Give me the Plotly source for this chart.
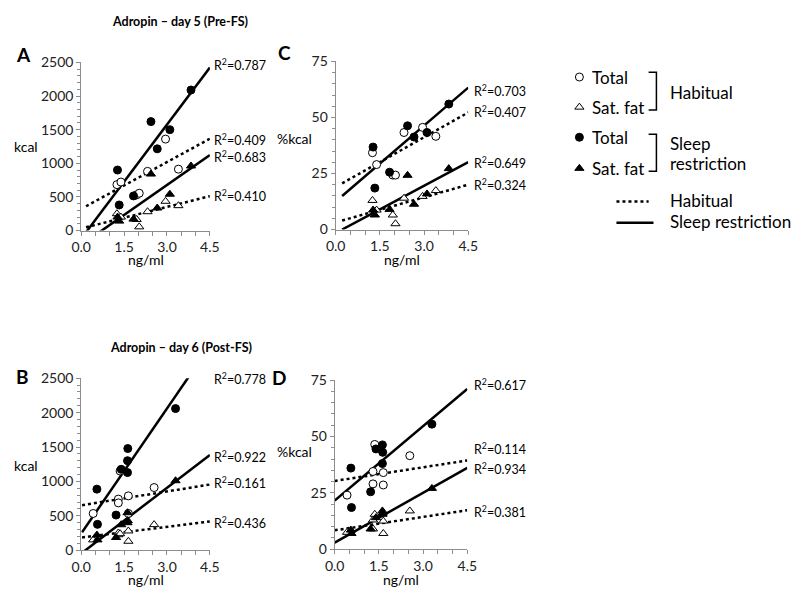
import plotly.graph_objects as go

# ---------------- data ----------------
# Day 5 (Pre-FS): adropin (ng/ml) per subject
x5_sr = [1.27, 1.33, 1.83, 2.44, 2.66, 3.10, 3.84]
x5_hab = [1.25, 1.39, 1.94, 2.03, 2.32, 2.95, 3.40]
A_sr_total = [900, 380, 515, 1620, 1215, 1500, 2090]
A_hab_total = [683, 721, 530, 555, 880, 1360, 913]
A_sr_sat = [200, 140, 170, 840, 335, 540, 960]
A_hab_sat = [250, 200, 165, 55, 280, 435, 370]
C_sr_total = [36.8, 18.5, 25.6, 46.3, 41.3, 43.3, 56.0]
C_hab_total = [34.3, 29.0, 24.3, 24.3, 43.3, 45.6, 41.6]
C_sr_sat = [8.7, 6.5, 9.0, 24.2, 11.3, 15.9, 27.2]
C_hab_sat = [13.0, 8.7, 6.5, 2.6, 14.0, 14.8, 17.4]

# Day 6 (Post-FS)
x6_sr = [0.55, 0.57, 1.22, 1.40, 1.62, 1.63, 1.62, 3.30]
x6_hab = [0.42, 1.30, 1.30, 1.36, 1.65, 1.65, 2.55]
B_sr_total = [888, 376, 511, 1176, 1301, 1478, 1129, 2059]
B_sr_sat = [220, 150, 185, 370, 545, 430, 400, 1010]
B_hab_total = [534, 743, 688, 1152, 790, 534, 911]
B_hab_sat = [150, 225, 250, 240, 280, 130, 372]
D_sr_total = [36.0, 18.5, 25.5, 44.5, 46.3, 43.0, 38.0, 55.5]
D_sr_sat = [8.5, 7.0, 9.0, 14.0, 17.0, 16.0, 15.5, 27.0]
D_hab_total = [24.0, 34.5, 29.0, 46.5, 34.0, 28.5, 41.5]
D_hab_sat = [7.5, 9.0, 13.0, 15.5, 12.5, 7.0, 17.0]

# trend lines: (slope, intercept) for sr_total, hab_total, sr_sat, hab_sat
A_trend = [(566, -122), (232, 322), (297, -214), (107, 30)]
C_trend = [(11.3, 12.5), (7.39, 19.0), (7.04, -1.55), (3.74, 3.2)]
B_trend = [(606, 242), (67, 653), (318.5, -48), (52, 184)]
D_trend = [(11.0, 21.6), (2.02, 30.3), (7.38, 2.9), (1.98, 8.4)]
trend_start = {"A": 0.17, "C": 0.22, "B": 0.03, "D": 0.0}
trend_end = 4.5

A_r2 = ["0.787", "0.409", "0.683", "0.410"]
C_r2 = ["0.703", "0.407", "0.649", "0.324"]
B_r2 = ["0.778", "0.922", "0.161", "0.436"]
D_r2 = ["0.617", "0.114", "0.934", "0.381"]

x_ticks = [0.0, 1.5, 3.0, 4.5]
x_ticktext = ["0.0", "1.5", "3.0", "4.5"]

# ---------------- figure ----------------
FONT = "Lato, 'Open Sans', sans-serif"
W, H = 800, 600
fig = go.Figure()

def px_x(p):
    return p / W

def px_y(p):
    return 1 - p / H

panels = {
    "A": ("", (73, 205), (55, 228), 2500, 500, 100),
    "C": ("2", (334, 470), (54, 227), 75, 25, 5),
    "B": ("3", (73, 205), (380, 557), 2500, 500, 100),
    "D": ("4", (333, 469), (382, 556), 75, 25, 5),
}

data = {
    "A": (x5_sr, x5_hab, A_sr_total, A_hab_total, A_sr_sat, A_hab_sat, A_trend),
    "C": (x5_sr, x5_hab, C_sr_total, C_hab_total, C_sr_sat, C_hab_sat, C_trend),
    "B": (x6_sr, x6_hab, B_sr_total, B_hab_total, B_sr_sat, B_hab_sat, B_trend),
    "D": (x6_sr, x6_hab, D_sr_total, D_hab_total, D_sr_sat, D_hab_sat, D_trend),
}

AXC = "#8c8c8c"
layout_axes = {}
for name, (suf, (x0, x1), (yt, yb), ymax, major, minor) in panels.items():
    xa = "x" + suf
    ya = "y" + suf
    layout_axes["xaxis" + suf] = dict(
        domain=[px_x(x0), px_x(x1)], anchor=ya, range=[0, 4.5],
        tickvals=x_ticks, ticktext=x_ticktext, ticks="outside", ticklen=4,
        tickcolor=AXC, showline=True, linecolor=AXC, linewidth=1,
        showgrid=False, zeroline=False,
        minor=dict(dtick=0.5, tick0=0, ticks="outside", ticklen=4, tickcolor=AXC),
        tickfont=dict(family=FONT, size=14, color="#222"),
    )
    layout_axes["yaxis" + suf] = dict(
        domain=[px_y(yb), px_y(yt)], anchor=xa, range=[0, ymax],
        dtick=major, ticks="outside", ticklen=4, tickcolor=AXC,
        showline=True, linecolor=AXC, linewidth=1, showgrid=False, zeroline=False,
        minor=dict(dtick=minor, ticks="outside", ticklen=3, tickcolor=AXC),
        tickfont=dict(family=FONT, size=14, color="#222"),
    )
    xs_sr, xs_hab, sr_tot, hab_tot, sr_sat, hab_sat, trend = data[name]
    styles = ["solid", "dot", "solid", "dot"]
    for (slope, icpt), dash in zip(trend, styles):
        xx = [trend_start[name], trend_end]
        yy = [icpt + slope * v for v in xx]
        fig.add_trace(go.Scatter(x=xx, y=yy, mode="lines", xaxis=xa, yaxis=ya,
                                 line=dict(color="black", width=2.5, dash=dash),
                                 showlegend=False, hoverinfo="skip"))
    mk = [
        (xs_hab, hab_tot, "circle-open"),
        (xs_hab, hab_sat, "triangle-up-open"),
        (xs_sr, sr_tot, "circle"),
        (xs_sr, sr_sat, "triangle-up"),
    ]
    for xs, ys, sym in mk:
        openm = "open" in sym
        fig.add_trace(go.Scatter(
            x=xs, y=ys, mode="markers", xaxis=xa, yaxis=ya,
            marker=dict(symbol=sym.replace("-open", ""), size=8,
                        color="white" if openm else "black",
                        line=dict(color="black", width=1)),
            cliponaxis=False, showlegend=False))

# overlay axis in pixel space for the legend
layout_axes["xaxis5"] = dict(domain=[0, 1], range=[0, W], visible=False, anchor="y5", fixedrange=True)
layout_axes["yaxis5"] = dict(domain=[0, 1], range=[H, 0], visible=False, anchor="x5", fixedrange=True)

leg_marks = [(584, 70, "circle-open"), (584, 101, "triangle-up-open"),
             (584, 132, "circle"), (584, 164, "triangle-up")]
for lx, ly, sym in leg_marks:
    openm = "open" in sym
    fig.add_trace(go.Scatter(x=[lx], y=[ly], mode="markers", xaxis="x5", yaxis="y5",
                             marker=dict(symbol=sym.replace("-open", ""), size=8,
                                         color="white" if openm else "black",
                                         line=dict(color="black", width=1)),
                             showlegend=False, hoverinfo="skip"))
fig.add_trace(go.Scatter(x=[622, 655], y=[198, 198], mode="lines", xaxis="x5", yaxis="y5",
                         line=dict(color="black", width=2.5, dash="dot"), showlegend=False))
fig.add_trace(go.Scatter(x=[622, 660], y=[220, 220], mode="lines", xaxis="x5", yaxis="y5",
                         line=dict(color="black", width=2.5), showlegend=False))
for (t, b) in [(65, 104), (129, 167)]:
    fig.add_trace(go.Scatter(x=[655, 663, 663, 655], y=[t, t, b, b], mode="lines",
                             xaxis="x5", yaxis="y5", line=dict(color="black", width=1.5),
                             showlegend=False))

ann = []

def txt(x, y, s, size=13, bold=False, xanchor="left", yanchor="middle"):
    ann.append(dict(x=px_x(x), y=px_y(y), xref="paper", yref="paper",
                    text=("<b>%s</b>" % s) if bold else s,
                    showarrow=False, xanchor=xanchor, yanchor=yanchor,
                    font=dict(family=FONT, size=size, color="black")))

txt(174, 13, "Adropin – day 5 (Pre-FS)", size=12.5, bold=True, xanchor="center")
txt(175, 348, "Adropin – day 6 (Post-FS)", size=12.5, bold=True, xanchor="center")
txt(4, 47, "A", size=19, bold=True)
txt(273, 45, "C", size=19, bold=True)
txt(4, 378, "B", size=19, bold=True)
txt(267, 379, "D", size=19, bold=True)

for (x, y) in [(2, 142), (2, 470)]:
    txt(x, y, "kcal", size=14)
for (x, y) in [(272, 133), (272, 455)]:
    txt(x, y, "%kcal", size=14)
for (cx, y) in [(139, 258), (402, 258), (139, 587), (401, 587)]:
    txt(cx, y, "ng/ml", size=14, xanchor="center")

r2_pos = {
    "A": (207, [57, 134, 152, 192], A_r2),
    "C": (474, [84, 105, 158, 181], C_r2),
    "B": (207, [380, 461, 487, 528], B_r2),
    "D": (474, [386, 452, 473, 517], D_r2),
}
for name, (x, ys, vals) in r2_pos.items():
    for y, v in zip(ys, vals):
        txt(x, y, "R<sup>2</sup>=" + v, size=12.5)

txt(595, 70, "Total", size=17)
txt(595, 101, "Sat. fat", size=17)
txt(675, 86, "Habitual", size=17)
txt(595, 132, "Total", size=17)
txt(595, 164, "Sat. fat", size=17)
txt(675, 138, "Sleep", size=17)
txt(675, 159, "restriction", size=17)
txt(675, 197, "Habitual", size=17)
txt(675, 219, "Sleep restriction", size=17)

fig.update_layout(width=W, height=H, margin=dict(l=0, r=0, t=0, b=0),
                  paper_bgcolor="white", plot_bgcolor="rgba(0,0,0,0)",
                  showlegend=False, annotations=ann, **layout_axes)
fig.write_html("out.html", config={"displayModeBar": False},
               post_script="document.body.style.margin='0px';")
